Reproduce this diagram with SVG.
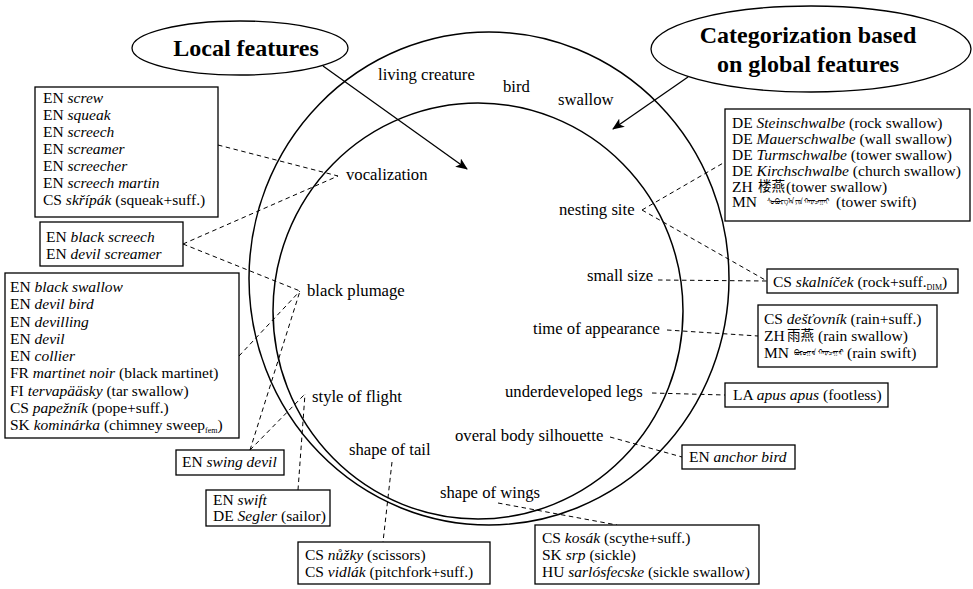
<svg xmlns="http://www.w3.org/2000/svg" width="973" height="589" viewBox="0 0 973 589">
<style>
text{font-family:"Liberation Serif","Noto Sans CJK SC",serif;fill:#000}
.lbl{font-size:16.7px}
.bx{font-size:15.5px}
.ttl{font-size:24px;font-weight:bold}
.i{font-style:italic}
.sub{font-size:8px}
.cjk{font-family:"Noto Sans CJK SC","Noto Sans CJK TC",sans-serif;font-size:13.5px}
.mn{font-size:8px}
.ring{fill:none;stroke:#000;stroke-width:1.5}
.box{fill:#fff;stroke:#000;stroke-width:1.3}
.oval{fill:#fff;stroke:#000;stroke-width:1.3}
.dash line{stroke:#000;stroke-width:1;stroke-dasharray:4.5 3.5;fill:none}
.arr{stroke:#000;stroke-width:1.3;fill:none;marker-end:url(#ah)}
</style>
<defs>
<marker id="ah" viewBox="0 0 12 10" refX="11" refY="5" markerWidth="12" markerHeight="10" markerUnits="userSpaceOnUse" orient="auto">
<path d="M0,0 L12,5 L0,10 L3,5 z" fill="#000"/>
</marker>
</defs>

<g id="circles">
<ellipse class="ring" cx="489" cy="278.5" rx="240" ry="246.5"/>
<ellipse class="ring" cx="478" cy="311" rx="205" ry="208"/>
</g>

<g id="connectors">
<g class="dash">
<line x1="218" y1="145" x2="338" y2="176"/>
<line x1="183" y1="244" x2="338" y2="176"/>
<line x1="183" y1="244" x2="300" y2="291"/>
<line x1="239" y1="356" x2="300" y2="291"/>
<line x1="250" y1="450" x2="300" y2="291"/>
<line x1="250" y1="450" x2="305" y2="394"/>
<line x1="298" y1="490" x2="305" y2="394"/>
<line x1="642" y1="210" x2="725" y2="162"/>
<line x1="642" y1="210" x2="767" y2="281"/>
<line x1="658" y1="280" x2="767" y2="281"/>
<line x1="667" y1="330" x2="758" y2="336"/>
<line x1="652" y1="393" x2="725" y2="395"/>
<line x1="610" y1="437" x2="682" y2="457"/>
<line x1="392" y1="462" x2="383" y2="542"/>
<line x1="498" y1="503" x2="617" y2="525"/>
</g>
<line class="arr" x1="323" y1="66" x2="467" y2="169"/>
<line class="arr" x1="688" y1="77" x2="613" y2="129"/>
</g>

<g id="local-features">
<ellipse class="oval" cx="240" cy="48" rx="108" ry="27"/>
<text class="ttl" x="246" y="56" text-anchor="middle">Local features</text>
</g>

<g id="global-features">
<ellipse class="oval" cx="811" cy="49" rx="160" ry="43"/>
<text class="ttl" x="808" y="43" text-anchor="middle">Categorization based</text>
<text class="ttl" x="808" y="72" text-anchor="middle">on global features</text>
</g>

<g id="ring-labels">
<text class="lbl" x="378" y="80">living creature</text>
<text class="lbl" x="503" y="92">bird</text>
<text class="lbl" x="558" y="105">swallow</text>
</g>

<g id="feature-labels">
<text class="lbl" x="346" y="180">vocalization</text>
<text class="lbl" x="559" y="215">nesting site</text>
<text class="lbl" x="587" y="281">small size</text>
<text class="lbl" x="307" y="296">black plumage</text>
<text class="lbl" x="533" y="334">time of appearance</text>
<text class="lbl" x="505" y="397">underdeveloped legs</text>
<text class="lbl" x="312" y="402">style of flight</text>
<text class="lbl" x="455" y="441">overal body silhouette</text>
<text class="lbl" x="349" y="455">shape of tail</text>
<text class="lbl" x="440" y="498">shape of wings</text>
</g>

<g id="box-vocalization">
<rect class="box" x="35" y="87" width="183" height="130"/>
<text class="bx" x="43" y="103">EN <tspan class="i">screw</tspan></text>
<text class="bx" x="43" y="120">EN <tspan class="i">squeak</tspan></text>
<text class="bx" x="43" y="137">EN <tspan class="i">screech</tspan></text>
<text class="bx" x="43" y="154">EN <tspan class="i">screamer</tspan></text>
<text class="bx" x="43" y="171">EN <tspan class="i">screecher</tspan></text>
<text class="bx" x="43" y="188">EN <tspan class="i">screech martin</tspan></text>
<text class="bx" x="43" y="205">CS <tspan class="i">skřípák</tspan> (squeak+suff.)</text>
</g>

<g id="box-voc-plumage">
<rect class="box" x="40" y="222" width="143" height="44"/>
<text class="bx" x="46" y="242">EN <tspan class="i">black screech</tspan></text>
<text class="bx" x="46" y="259">EN <tspan class="i">devil screamer</tspan></text>
</g>

<g id="box-plumage">
<rect class="box" x="5" y="273" width="234" height="165"/>
<text class="bx" x="10" y="292">EN <tspan class="i">black swallow</tspan></text>
<text class="bx" x="10" y="309">EN <tspan class="i">devil bird</tspan></text>
<text class="bx" x="10" y="326.5">EN <tspan class="i">devilling</tspan></text>
<text class="bx" x="10" y="344">EN <tspan class="i">devil</tspan></text>
<text class="bx" x="10" y="361">EN <tspan class="i">collier</tspan></text>
<text class="bx" x="10" y="378">FR <tspan class="i">martinet noir</tspan> (black martinet)</text>
<text class="bx" x="10" y="395.5">FI <tspan class="i">tervapääsky</tspan> (tar swallow)</text>
<text class="bx" x="10" y="413">CS <tspan class="i">papežník</tspan> (pope+suff.)</text>
<text class="bx" x="10" y="430">SK <tspan class="i">kominárka</tspan> (chimney sweep<tspan class="sub" dy="3">fem</tspan><tspan dy="-3">)</tspan></text>
</g>

<g id="box-swing-devil">
<rect class="box" x="176" y="450" width="108" height="25"/>
<text class="bx" x="182" y="467">EN <tspan class="i">swing devil</tspan></text>
</g>

<g id="box-flight">
<rect class="box" x="206" y="490" width="124" height="36"/>
<text class="bx" x="213" y="505">EN <tspan class="i">swift</tspan></text>
<text class="bx" x="213" y="521">DE <tspan class="i">Segler</tspan> (sailor)</text>
</g>

<g id="box-tail">
<rect class="box" x="298" y="542" width="192" height="42"/>
<text class="bx" x="305" y="560">CS <tspan class="i">nůžky</tspan> (scissors)</text>
<text class="bx" x="305" y="577">CS <tspan class="i">vidlák</tspan> (pitchfork+suff.)</text>
</g>

<g id="box-wings">
<rect class="box" x="535" y="525" width="224" height="59"/>
<text class="bx" x="542" y="543">CS <tspan class="i">kosák</tspan> (scythe+suff.)</text>
<text class="bx" x="542" y="560">SK <tspan class="i">srp</tspan> (sickle)</text>
<text class="bx" x="542" y="577">HU <tspan class="i">sarlósfecske</tspan> (sickle swallow)</text>
</g>

<g id="box-nesting">
<rect class="box" x="725" y="109" width="245" height="112"/>
<text class="bx" x="732" y="128">DE <tspan class="i">Steinschwalbe</tspan> (rock swallow)</text>
<text class="bx" x="732" y="144">DE <tspan class="i">Mauerschwalbe</tspan> (wall swallow)</text>
<text class="bx" x="732" y="160">DE <tspan class="i">Turmschwalbe</tspan> (tower swallow)</text>
<text class="bx" x="732" y="176">DE <tspan class="i">Kirchschwalbe</tspan> (church swallow)</text>
<text class="bx" x="732" y="192">ZH</text>
<text class="cjk" x="758" y="191">楼燕</text>
<text class="bx" x="786" y="192">(tower swallow)</text>
<text class="bx" x="732" y="207">MN</text>
<text class="mn" x="767" y="204" textLength="62" lengthAdjust="spacingAndGlyphs">ᠰᠤᠪᠤᠷᠭ᠎ᠠ ᠶᠢᠨ ᠬᠠᠷᠠᠴᠠᠭᠠᠢ</text>
<text class="bx" x="836" y="207">(tower swift)</text>
</g>

<g id="box-size">
<rect class="box" x="767" y="269" width="191" height="24"/>
<text class="bx" x="773" y="287">CS <tspan class="i">skalníček</tspan> (rock+suff.<tspan class="sub" dy="3">DIM</tspan><tspan dy="-3">)</tspan></text>
</g>

<g id="box-appearance">
<rect class="box" x="758" y="305" width="179" height="62"/>
<text class="bx" x="764" y="324">CS <tspan class="i">dešťovník</tspan> (rain+suff.)</text>
<text class="bx" x="764" y="341">ZH</text>
<text class="cjk" x="787" y="340">雨燕</text>
<text class="bx" x="818" y="341">(rain swallow)</text>
<text class="bx" x="764" y="358">MN</text>
<text class="mn" x="794" y="355" textLength="50" lengthAdjust="spacingAndGlyphs">ᠪᠤᠷᠤᠭᠠᠨ ᠬᠠᠷᠠᠴᠠᠭᠠᠢ</text>
<text class="bx" x="847" y="358">(rain swift)</text>
</g>

<g id="box-legs">
<rect class="box" x="725" y="383" width="163" height="24"/>
<text class="bx" x="733" y="400">LA <tspan class="i">apus apus</tspan> (footless)</text>
</g>

<g id="box-silhouette">
<rect class="box" x="682" y="445" width="113" height="24"/>
<text class="bx" x="689" y="462">EN <tspan class="i">anchor bird</tspan></text>
</g>
</svg>
